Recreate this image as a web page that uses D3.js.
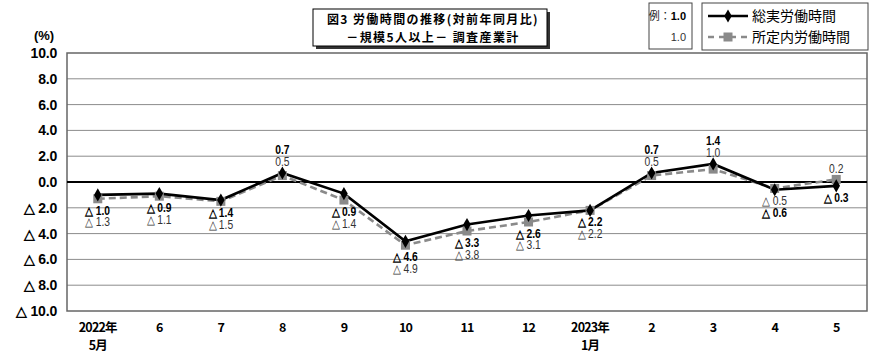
<!DOCTYPE html>
<html><head><meta charset="utf-8">
<script src="https://cdn.jsdelivr.net/npm/d3@7"></script>
<style>
html,body{margin:0;padding:0;background:#fff;}
svg{display:block;}
</style></head>
<body>
<svg id="c" width="890" height="361"></svg>
<script>
const categories = ["2022年\n5月","6","7","8","9","10","11","12","2023年\n1月","2","3","4","5"];
const totalHours = [-1.0,-0.9,-1.4,0.7,-0.9,-4.6,-3.3,-2.6,-2.2,0.7,1.4,-0.6,-0.3];
const scheduledHours = [-1.3,-1.1,-1.5,0.5,-1.4,-4.9,-3.8,-3.1,-2.2,0.5,1.0,-0.5,0.2];
const yTicks = [10,8,6,4,2,0,-2,-4,-6,-8,-10];
const seriesNames = ["総実労働時間","所定内労働時間"];
const titleLines = ["図3  労働時間の推移(対前年同月比)","－規模5人以上－   調査産業計"];

const svg = d3.select("#c");
const M = {left:67, right:867, top:53, bottom:311};
const x = d3.scaleBand().domain(d3.range(categories.length)).range([M.left, M.right]);
const y = d3.scaleLinear().domain([-10,10]).range([M.bottom, M.top]);
const cx = i => x(i) + x.bandwidth()/2;
const JP = "'Noto Sans CJK JP','Noto Sans',sans-serif";
const NUM = "'Liberation Sans',Arial,sans-serif";
const fmt = v => v < 0 ? "△ " + Math.abs(v).toFixed(1) : v.toFixed(1);

// gridlines
svg.append("g").selectAll("line").data(yTicks.filter(t=>t!==0 && t!==10 && t!==-10)).join("line")
  .attr("x1",M.left).attr("x2",M.right).attr("y1",d=>y(d)).attr("y2",d=>y(d))
  .attr("stroke","#8c8c8c").attr("stroke-width",1);
// plot border
svg.append("rect").attr("x",M.left).attr("y",M.top).attr("width",M.right-M.left).attr("height",M.bottom-M.top)
  .attr("fill","none").attr("stroke","#666").attr("stroke-width",1.5);
// zero line
svg.append("line").attr("x1",M.left).attr("x2",M.right).attr("y1",y(0)).attr("y2",y(0))
  .attr("stroke","#000").attr("stroke-width",1.8);

// y axis labels
svg.append("g").selectAll("text").data(yTicks).join("text")
  .attr("x",57).attr("y",d=>y(d)).attr("dy","0.36em").attr("text-anchor","end")
  .attr("font-family",NUM).attr("font-size",14).attr("font-weight","bold")
  .attr("letter-spacing","-0.2").attr("fill","#000")
  .text(d=>fmt(d));
svg.append("text").attr("x",44).attr("y",40).attr("text-anchor","middle")
  .attr("font-family",NUM).attr("font-size",13).attr("font-weight","bold")
  .text("(%)");

// x axis labels
const xl = svg.append("g").selectAll("text").data(categories).join("text")
  .attr("x",(d,i)=>cx(i)).attr("y",332).attr("text-anchor","middle")
  .attr("font-family",JP).attr("font-size",12.5).attr("font-weight","bold").attr("letter-spacing","-0.8");
xl.each(function(d){
  const t=d3.select(this);
  d.split("\n").forEach((s,k)=>t.append("tspan").attr("x",t.attr("x")).attr("dy",k?18:0).text(s));
});

// lines
const line = arr => d3.line().x((d,i)=>cx(i)).y(d=>y(d))(arr);
svg.append("path").attr("d",line(scheduledHours)).attr("fill","none").attr("stroke","#8a8a8a")
  .attr("stroke-width",2.6).attr("stroke-dasharray","7,4");
svg.append("path").attr("d",line(totalHours)).attr("fill","none").attr("stroke","#000")
  .attr("stroke-width",2.6);
svg.append("g").selectAll("rect").data(scheduledHours).join("rect")
  .attr("x",(d,i)=>cx(i)-4.5).attr("y",d=>y(d)-4.5).attr("width",9).attr("height",9).attr("fill","#8a8a8a");
const diamond = d3.symbol().type(d3.symbolDiamond).size(50);
svg.append("g").selectAll("path").data(totalHours).join("path")
  .attr("d",diamond).attr("transform",(d,i)=>`translate(${cx(i)},${y(d)})`).attr("fill","#000");

// data labels
const lab = svg.append("g");
function label(xp, yp, txt, bold){
  lab.append("text").attr("transform",`translate(${xp},${yp}) scale(0.86,1)`).attr("text-anchor","middle")
    .attr("font-family",NUM).attr("font-size",12).attr("font-weight",bold?"bold":"normal")
    .attr("fill",bold?"#000":"#333").text(txt);
}
totalHours.forEach((t,i)=>{
  const s = scheduledHours[i];
  let tPos, sPos;
  if (t<0 && s<0) {
    const base = y(Math.min(t,s));
    if (t < s) { sPos = base+15; tPos = base+27.5; } else { tPos = base+16; sPos = base+27.5; }
  } else if (t>=0 && s>=0) {
    const base = y(Math.max(t,s));
    tPos = base-18.5; sPos = base-7;
  } else {
    sPos = y(s)-6; tPos = y(t)+16;
  }
  label(cx(i), tPos, fmt(t), true);
  label(cx(i), sPos, fmt(s), false);
});

// title box
svg.append("rect").attr("x",316).attr("y",12).attr("width",234).attr("height",37).attr("fill","#333");
svg.append("rect").attr("x",313).attr("y",9).attr("width",234).attr("height",37).attr("fill","#fff")
  .attr("stroke","#000").attr("stroke-width",1);
svg.append("text").attr("x",433).attr("y",24).attr("text-anchor","middle")
  .attr("font-family",JP).attr("font-size",12).attr("font-weight","bold").attr("letter-spacing","1.4").attr("fill","#000").text(titleLines[0]);
svg.append("text").attr("x",433).attr("y",41.5).attr("text-anchor","middle")
  .attr("font-family",JP).attr("font-size",12).attr("font-weight","bold").attr("letter-spacing","1.4").attr("fill","#000").text(titleLines[1]);

// example box
svg.append("rect").attr("x",649).attr("y",3).attr("width",43).attr("height",46).attr("fill","#fff")
  .attr("stroke","#444").attr("stroke-width",1);
const ex = svg.append("text").attr("x",686).attr("y",20).attr("text-anchor","end").attr("font-size",11);
ex.append("tspan").attr("font-family",JP).attr("fill","#222").text("例：");
ex.append("tspan").attr("font-family",NUM).attr("font-weight","bold").text("1.0");
svg.append("text").attr("x",686).attr("y",41).attr("text-anchor","end").attr("font-family",NUM)
  .attr("font-size",11).attr("fill","#333").text("1.0");

// legend
svg.append("rect").attr("x",702).attr("y",3).attr("width",166).attr("height",47).attr("fill","#fff")
  .attr("stroke","#444").attr("stroke-width",1);
svg.append("line").attr("x1",708).attr("x2",748).attr("y1",16).attr("y2",16).attr("stroke","#000").attr("stroke-width",2.6);
svg.append("path").attr("d",diamond).attr("transform","translate(728,16)").attr("fill","#000");
svg.append("line").attr("x1",708).attr("x2",748).attr("y1",37).attr("y2",37).attr("stroke","#8a8a8a")
  .attr("stroke-width",2.6).attr("stroke-dasharray","6,5");
svg.append("rect").attr("x",723.5).attr("y",32.5).attr("width",9).attr("height",9).attr("fill","#8a8a8a");
seriesNames.forEach((s,k)=>svg.append("text").attr("x",752).attr("y",16+k*21).attr("dy","0.35em")
  .attr("font-family",JP).attr("font-size",14).attr("fill","#000").text(s));
</script>
</body></html>
